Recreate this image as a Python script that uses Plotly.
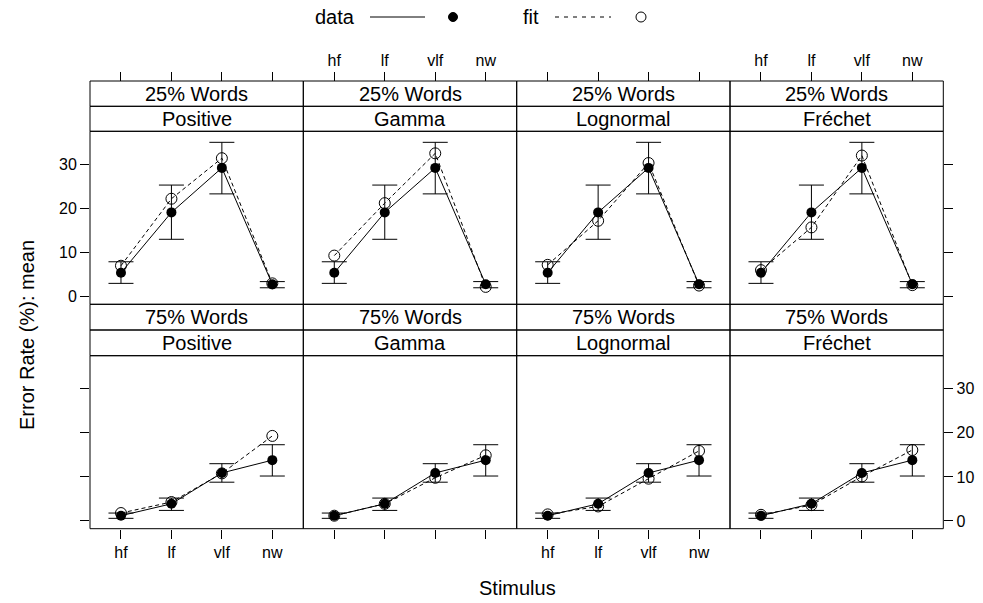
import plotly.graph_objects as go

W, H = 983, 603

stimulus = ["hf", "lf", "vlf", "nw"]
models = ["Positive", "Gamma", "Lognormal", "Fréchet"]
conditions = ["25% Words", "75% Words"]

# observed data (same in each column of a row), with CI bounds
data_mean_25 = [5.4, 19.1, 29.2, 2.8]
data_lo_25 = [3.0, 13.0, 23.3, 2.0]
data_hi_25 = [7.9, 25.3, 35.0, 3.4]

data_mean_75 = [1.2, 3.9, 10.9, 13.8]
data_lo_75 = [0.6, 2.4, 8.8, 10.2]
data_hi_75 = [1.8, 5.2, 13.0, 17.3]

# model fits
fit_25_positive = [7.0, 22.2, 31.4, 3.0]
fit_25_gamma = [9.3, 21.2, 32.5, 2.2]
fit_25_lognormal = [7.2, 17.2, 30.3, 2.5]
fit_25_frechet = [6.0, 15.7, 32.0, 2.6]

fit_75_positive = [1.8, 4.3, 10.8, 19.3]
fit_75_gamma = [1.2, 3.9, 9.8, 14.9]
fit_75_lognormal = [1.5, 3.3, 9.6, 15.9]
fit_75_frechet = [1.4, 3.6, 10.1, 16.1]

y_ticks = [0, 10, 20, 30]

rows = [
    dict(cond=conditions[0], mean=data_mean_25, lo=data_lo_25, hi=data_hi_25,
         fits=[fit_25_positive, fit_25_gamma, fit_25_lognormal, fit_25_frechet]),
    dict(cond=conditions[1], mean=data_mean_75, lo=data_lo_75, hi=data_hi_75,
         fits=[fit_75_positive, fit_75_gamma, fit_75_lognormal, fit_75_frechet]),
]

FONT = "Liberation Sans"
TICK_SIZE = 16
TEXT_SIZE = 20

col_edges = [90, 303.3, 516.7, 730, 943.3]
panel_y = [(131.3, 304.3), (355.7, 528.7)]
strip_y = [(81, 106.3, 131.3), (304.3, 330, 355.7)]
x_range = [-0.614, 3.614]
y_range = [-1.75, 37.5]


def px(x):
    return x / W


def py(y):
    return 1 - y / H


fig = go.Figure()
shapes = []
annotations = []

for r, row in enumerate(rows):
    err_plus = [h - m for h, m in zip(row["hi"], row["mean"])]
    err_minus = [m - l for m, l in zip(row["mean"], row["lo"])]
    for c in range(4):
        k = r * 4 + c + 1
        xs = "x" if k == 1 else f"x{k}"
        ys = "y" if k == 1 else f"y{k}"
        fig.add_trace(go.Scatter(
            x=stimulus, y=row["mean"], xaxis=xs, yaxis=ys, mode="lines+markers",
            line=dict(color="black", width=1),
            marker=dict(symbol="circle", size=10, color="black"),
            error_y=dict(type="data", array=err_plus, arrayminus=err_minus,
                         color="black", thickness=1, width=12.5, symmetric=False),
            showlegend=False, hoverinfo="skip"))
        fig.add_trace(go.Scatter(
            x=stimulus, y=row["fits"][c], xaxis=xs, yaxis=ys, mode="lines+markers",
            line=dict(color="black", width=1, dash="4px,3px"),
            marker=dict(symbol="circle-open", size=11, color="black",
                        line=dict(color="black", width=1)),
            showlegend=False, hoverinfo="skip"))

        x0, x1 = col_edges[c], col_edges[c + 1]
        yt, yb = panel_y[r]
        xa = dict(domain=[px(x0), px(x1)], range=x_range, type="category",
                  categoryorder="array", categoryarray=stimulus,
                  showgrid=False, zeroline=False, showline=False,
                  ticks="outside", ticklen=9, tickwidth=1, tickcolor="black",
                  tickfont=dict(family=FONT, size=TICK_SIZE, color="black"))
        if r == 0:
            xa.update(anchor="free", position=py(strip_y[0][0]), side="top",
                      showticklabels=(c in (1, 3)))
        else:
            xa.update(anchor=ys, side="bottom", showticklabels=(c in (0, 2)))
        ya = dict(domain=[py(yb), py(yt)], range=y_range, anchor=xs,
                  tickvals=y_ticks, showgrid=False, zeroline=False, showline=False,
                  ticklen=9, tickwidth=1, tickcolor="black",
                  tickfont=dict(family=FONT, size=TICK_SIZE, color="black"))
        if c == 0:
            ya.update(side="left", ticks="outside", showticklabels=(r == 0))
        elif c == 3:
            ya.update(side="right", ticks="outside", showticklabels=(r == 1))
        else:
            ya.update(ticks="", showticklabels=False)
        fig.layout["xaxis" if k == 1 else f"xaxis{k}"] = xa
        fig.layout["yaxis" if k == 1 else f"yaxis{k}"] = ya

        # panel border and strips
        s0, s1, s2 = strip_y[r]
        for (a, b) in [(yt, yb), (s0, s1), (s1, s2)]:
            shapes.append(dict(type="rect", xref="paper", yref="paper",
                               x0=px(x0), x1=px(x1), y0=py(b), y1=py(a),
                               line=dict(color="black", width=1), fillcolor="rgba(0,0,0,0)"))
        annotations.append(dict(text=row["cond"], x=px((x0 + x1) / 2), y=py((s0 + s1) / 2),
                                xref="paper", yref="paper", showarrow=False,
                                xanchor="center", yanchor="middle",
                                font=dict(family=FONT, size=TEXT_SIZE, color="black")))
        annotations.append(dict(text=models[c], x=px((x0 + x1) / 2), y=py((s1 + s2) / 2),
                                xref="paper", yref="paper", showarrow=False,
                                xanchor="center", yanchor="middle",
                                font=dict(family=FONT, size=TEXT_SIZE, color="black")))

# axis titles
annotations.append(dict(text="Stimulus", x=px(517), y=py(588), xref="paper", yref="paper",
                        showarrow=False, xanchor="center", yanchor="middle",
                        font=dict(family=FONT, size=TEXT_SIZE, color="black")))
annotations.append(dict(text="Error Rate (%): mean", x=px(27), y=py(335), xref="paper",
                        yref="paper", showarrow=False, textangle=-90,
                        xanchor="center", yanchor="middle",
                        font=dict(family=FONT, size=TEXT_SIZE, color="black")))

# key (legend) at the top
LEG_Y = 17
annotations.append(dict(text="data", x=px(357), y=py(LEG_Y), xref="paper", yref="paper",
                        showarrow=False, xanchor="right", yanchor="middle",
                        font=dict(family=FONT, size=TEXT_SIZE, color="black")))
annotations.append(dict(text="fit", x=px(541), y=py(LEG_Y), xref="paper", yref="paper",
                        showarrow=False, xanchor="right", yanchor="middle",
                        font=dict(family=FONT, size=TEXT_SIZE, color="black")))
shapes.append(dict(type="line", xref="paper", yref="paper", x0=px(370), x1=px(425),
                   y0=py(LEG_Y), y1=py(LEG_Y), line=dict(color="black", width=1)))
shapes.append(dict(type="line", xref="paper", yref="paper", x0=px(555), x1=px(611),
                   y0=py(LEG_Y), y1=py(LEG_Y), line=dict(color="black", width=1, dash="4px,5px")))
shapes.append(dict(type="circle", xref="paper", yref="paper", xsizemode="pixel",
                   ysizemode="pixel", xanchor=px(453), yanchor=py(LEG_Y),
                   x0=-4.5, x1=4.5, y0=-4.5, y1=4.5, fillcolor="black",
                   line=dict(color="black", width=1)))
shapes.append(dict(type="circle", xref="paper", yref="paper", xsizemode="pixel",
                   ysizemode="pixel", xanchor=px(641), yanchor=py(LEG_Y),
                   x0=-5, x1=5, y0=-5, y1=5, fillcolor="rgba(0,0,0,0)",
                   line=dict(color="black", width=1)))

fig.update_layout(width=W, height=H, margin=dict(l=0, r=0, t=0, b=0),
                  paper_bgcolor="white", plot_bgcolor="white",
                  showlegend=False, shapes=shapes, annotations=annotations,
                  font=dict(family=FONT, color="black"))

fig.write_html("out.html", config={"displayModeBar": False},
               post_script="document.body.style.margin='0';document.body.style.padding='0';"
                           "document.body.style.overflow='hidden';")
